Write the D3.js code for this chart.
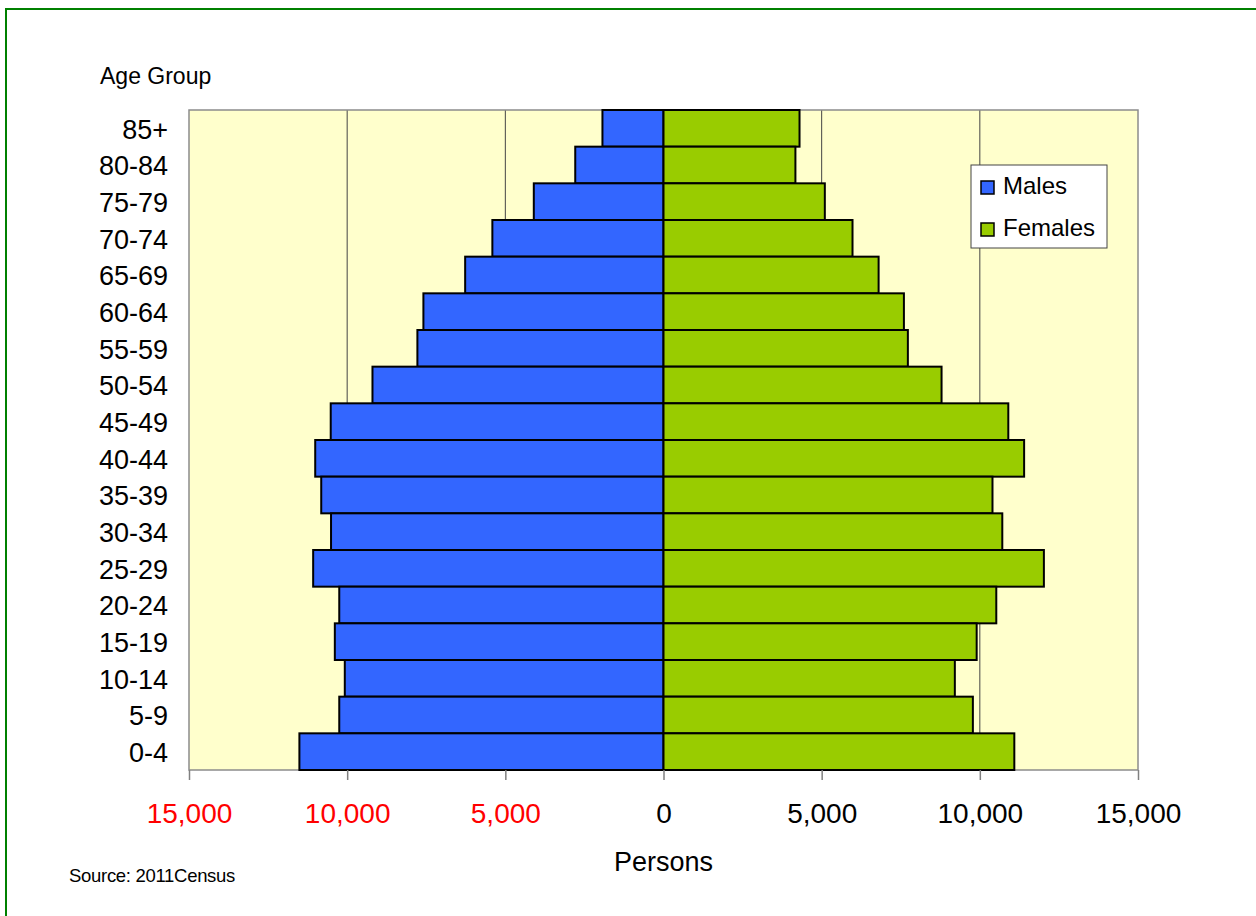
<!DOCTYPE html>
<html lang="en">
<head>
  <meta charset="utf-8">
  <title>Population pyramid - 2011 Census</title>
  <script src="https://d3js.org/d3.v7.min.js"></script>
  <style>
    body { margin: 0; background: #fff; }
    svg text { font-family: "Liberation Sans", Arial, sans-serif; }
  </style>
</head>
<body>
  <div id="chart"></div>

  <script>
    "use strict"
    // faixas etarias, de cima para baixo
    var ageGroups = ["85+", "80-84", "75-79", "70-74", "65-69", "60-64", "55-59", "50-54", "45-49",
                     "40-44", "35-39", "30-34", "25-29", "20-24", "15-19", "10-14", "5-9", "0-4"];
    var males   = [1930, 2790, 4100, 5410, 6270, 7590, 7780, 9200, 10520,
                   11010, 10820, 10510, 11075, 10250, 10390, 10075, 10250, 11510];
    var females = [4300, 4170, 5100, 5975, 6800, 7600, 7725, 8790, 10900,
                   11400, 10400, 10710, 12025, 10520, 9900, 9210, 9780, 11090];
    var tickValues = [-15000, -10000, -5000, 0, 5000, 10000, 15000];
    var gridValues = [-10000, -5000, 5000, 10000];
    var seriesNames = ["Males", "Females"];
    var seriesColors = ["#3366ff", "#99cc00"];

    var larguraSVG = 1256, alturaSVG = 916;
    var margin = {top: 110, right: 118, bottom: 146, left: 189};
    var larguraVis = larguraSVG - margin.left - margin.right,
        alturaVis = alturaSVG - margin.top - margin.bottom;

    var svg = d3.select("#chart").append("svg")
        .attr("width", larguraSVG)
        .attr("height", alturaSVG);

    // moldura verde
    svg.append("rect")
        .attr("x", 6).attr("y", 9)
        .attr("width", 1300).attr("height", 1000)
        .attr("fill", "none")
        .attr("stroke", "#008000")
        .attr("stroke-width", 2);

    var grafico = svg.append("g")
        .attr("transform", "translate(" + margin.left + "," + margin.top + ")");

    var x = d3.scaleLinear().domain([-15000, 15000]).range([0, larguraVis]);
    var y = d3.scaleBand().domain(ageGroups).range([0, alturaVis]).padding(0);

    // fundo
    grafico.append("rect")
        .attr("width", larguraVis).attr("height", alturaVis)
        .attr("fill", "#ffffcc");

    // linhas de grade
    grafico.selectAll(".grid")
        .data(gridValues)
        .enter().append("line")
          .attr("x1", d => x(d)).attr("x2", d => x(d))
          .attr("y1", 0).attr("y2", alturaVis)
          .attr("stroke", "#444")
          .attr("stroke-width", 1);

    grafico.append("rect")
        .attr("width", larguraVis).attr("height", alturaVis)
        .attr("fill", "none")
        .attr("stroke", "#8c8c8c")
        .attr("stroke-width", 1.5);

    var dados = ageGroups.map((g, i) => ({grupo: g, m: males[i], f: females[i]}));

    grafico.selectAll(".male")
        .data(dados)
        .enter().append("rect")
          .attr("x", d => x(-d.m))
          .attr("y", d => y(d.grupo))
          .attr("width", d => x(0) - x(-d.m))
          .attr("height", y.bandwidth())
          .attr("fill", seriesColors[0])
          .attr("stroke", "#000")
          .attr("stroke-width", 2);

    grafico.selectAll(".female")
        .data(dados)
        .enter().append("rect")
          .attr("x", x(0))
          .attr("y", d => y(d.grupo))
          .attr("width", d => x(d.f) - x(0))
          .attr("height", y.bandwidth())
          .attr("fill", seriesColors[1])
          .attr("stroke", "#000")
          .attr("stroke-width", 2);

    // eixo x
    var eixoX = grafico.append("g")
        .attr("transform", "translate(0," + alturaVis + ")")
        .call(d3.axisBottom(x).tickValues(tickValues).tickSize(10).tickPadding(23)
              .tickFormat(d => d3.format(",")(Math.abs(d))));
    eixoX.select(".domain").remove();
    eixoX.selectAll("line").attr("stroke", "#808080").attr("stroke-width", 1.5);
    eixoX.selectAll("text")
        .style("font-size", "28px")
        .attr("fill", d => d < 0 ? "#ff0000" : "#000");

    // eixo y
    var eixoY = grafico.append("g")
        .call(d3.axisLeft(y).tickSize(0).tickPadding(21));
    eixoY.select(".domain").remove();
    eixoY.selectAll("text")
        .style("font-size", "27px")
        .attr("dy", "0.38em")
        .attr("fill", "#000");

    svg.append("text")
        .attr("x", 100).attr("y", 84)
        .style("font-size", "23px")
        .text("Age Group");

    svg.append("text")
        .attr("x", x(0) + margin.left).attr("y", 871)
        .attr("text-anchor", "middle")
        .style("font-size", "27px")
        .text("Persons");

    svg.append("text")
        .attr("x", 69).attr("y", 882)
        .style("font-size", "18.5px")
        .style("letter-spacing", "-0.3px")
        .text("Source: 2011Census");

    // legenda
    var legenda = svg.append("g").attr("transform", "translate(971,165)");
    legenda.append("rect")
        .attr("width", 136).attr("height", 83)
        .attr("fill", "#fff")
        .attr("stroke", "#444")
        .attr("stroke-width", 1);
    var itens = legenda.selectAll(".item")
        .data(seriesNames)
        .enter().append("g")
          .attr("transform", (d, i) => "translate(0," + (i * 42) + ")");
    itens.append("rect")
        .attr("x", 10).attr("y", 16)
        .attr("width", 13).attr("height", 13)
        .attr("fill", (d, i) => seriesColors[i])
        .attr("stroke", "#000")
        .attr("stroke-width", 1.5);
    itens.append("text")
        .attr("x", 32).attr("y", 29)
        .style("font-size", "24px")
        .text(d => d);
  </script>
</body>
</html>
